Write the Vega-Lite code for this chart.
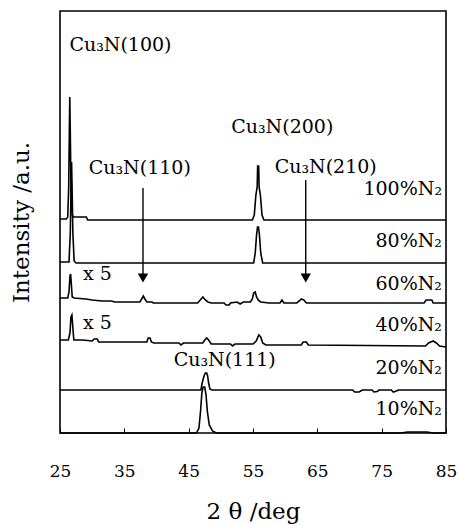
{
  "$schema": "https://vega.github.io/schema/vega-lite/v6.json",
  "autosize": {"type": "none"},
  "padding": {"left": 60, "top": 11, "right": 14, "bottom": 92},
  "width": 386,
  "height": 422,
  "background": "white",
  "config": {
    "view": {"stroke": "black", "strokeWidth": 1.6},
    "font": "DejaVu Serif"
  },
  "datasets": {
    "spectra": [
      {"series": "100%", "theta": 25.0, "intensity": 214},
      {"series": "100%", "theta": 26.0, "intensity": 214},
      {"series": "100%", "theta": 26.2, "intensity": 216},
      {"series": "100%", "theta": 26.35, "intensity": 245},
      {"series": "100%", "theta": 26.45, "intensity": 300},
      {"series": "100%", "theta": 26.52, "intensity": 336},
      {"series": "100%", "theta": 26.6, "intensity": 300},
      {"series": "100%", "theta": 26.72, "intensity": 240},
      {"series": "100%", "theta": 26.9, "intensity": 218},
      {"series": "100%", "theta": 27.1, "intensity": 216},
      {"series": "100%", "theta": 29.1, "intensity": 216},
      {"series": "100%", "theta": 29.3, "intensity": 213},
      {"series": "100%", "theta": 54.9, "intensity": 213},
      {"series": "100%", "theta": 55.2, "intensity": 218},
      {"series": "100%", "theta": 55.45, "intensity": 238},
      {"series": "100%", "theta": 55.65, "intensity": 246},
      {"series": "100%", "theta": 55.72, "intensity": 267},
      {"series": "100%", "theta": 55.88, "intensity": 267},
      {"series": "100%", "theta": 55.95, "intensity": 246},
      {"series": "100%", "theta": 56.15, "intensity": 238},
      {"series": "100%", "theta": 56.4, "intensity": 218},
      {"series": "100%", "theta": 56.7, "intensity": 213},
      {"series": "100%", "theta": 85.0, "intensity": 213},

      {"series": "80%", "theta": 25.0, "intensity": 171},
      {"series": "80%", "theta": 26.4, "intensity": 171},
      {"series": "80%", "theta": 26.6, "intensity": 200},
      {"series": "80%", "theta": 26.72, "intensity": 245},
      {"series": "80%", "theta": 26.8, "intensity": 271},
      {"series": "80%", "theta": 26.88, "intensity": 245},
      {"series": "80%", "theta": 27.0, "intensity": 200},
      {"series": "80%", "theta": 27.2, "intensity": 172},
      {"series": "80%", "theta": 27.5, "intensity": 170},
      {"series": "80%", "theta": 55.1, "intensity": 170},
      {"series": "80%", "theta": 55.35, "intensity": 180},
      {"series": "80%", "theta": 55.55, "intensity": 198},
      {"series": "80%", "theta": 55.7, "intensity": 206},
      {"series": "80%", "theta": 55.85, "intensity": 206},
      {"series": "80%", "theta": 56.0, "intensity": 198},
      {"series": "80%", "theta": 56.2, "intensity": 180},
      {"series": "80%", "theta": 56.5, "intensity": 170},
      {"series": "80%", "theta": 85.0, "intensity": 170},

      {"series": "60%", "theta": 25.0, "intensity": 135},
      {"series": "60%", "theta": 26.2, "intensity": 135},
      {"series": "60%", "theta": 26.4, "intensity": 141},
      {"series": "60%", "theta": 26.55, "intensity": 157},
      {"series": "60%", "theta": 26.65, "intensity": 159},
      {"series": "60%", "theta": 26.75, "intensity": 150},
      {"series": "60%", "theta": 26.9, "intensity": 136},
      {"series": "60%", "theta": 27.2, "intensity": 135},
      {"series": "60%", "theta": 29.0, "intensity": 134},
      {"series": "60%", "theta": 30.0, "intensity": 133},
      {"series": "60%", "theta": 31.5, "intensity": 132},
      {"series": "60%", "theta": 33.0, "intensity": 132},
      {"series": "60%", "theta": 33.5, "intensity": 131},
      {"series": "60%", "theta": 37.4, "intensity": 131},
      {"series": "60%", "theta": 37.7, "intensity": 134},
      {"series": "60%", "theta": 37.95, "intensity": 137},
      {"series": "60%", "theta": 38.2, "intensity": 134},
      {"series": "60%", "theta": 38.5, "intensity": 131},
      {"series": "60%", "theta": 39.3, "intensity": 131},
      {"series": "60%", "theta": 39.5, "intensity": 130},
      {"series": "60%", "theta": 46.4, "intensity": 130},
      {"series": "60%", "theta": 46.8, "intensity": 133},
      {"series": "60%", "theta": 47.2, "intensity": 136},
      {"series": "60%", "theta": 47.6, "intensity": 133},
      {"series": "60%", "theta": 48.0, "intensity": 131},
      {"series": "60%", "theta": 48.5, "intensity": 130},
      {"series": "60%", "theta": 50.5, "intensity": 130},
      {"series": "60%", "theta": 50.8, "intensity": 128},
      {"series": "60%", "theta": 51.3, "intensity": 128},
      {"series": "60%", "theta": 51.5, "intensity": 130},
      {"series": "60%", "theta": 52.5, "intensity": 131},
      {"series": "60%", "theta": 53.0, "intensity": 129},
      {"series": "60%", "theta": 53.5, "intensity": 131},
      {"series": "60%", "theta": 54.6, "intensity": 131},
      {"series": "60%", "theta": 54.9, "intensity": 134},
      {"series": "60%", "theta": 55.1, "intensity": 140},
      {"series": "60%", "theta": 55.35, "intensity": 141},
      {"series": "60%", "theta": 55.55, "intensity": 136},
      {"series": "60%", "theta": 55.8, "intensity": 133},
      {"series": "60%", "theta": 56.2, "intensity": 131},
      {"series": "60%", "theta": 57.5, "intensity": 130},
      {"series": "60%", "theta": 59.2, "intensity": 130},
      {"series": "60%", "theta": 59.5, "intensity": 133},
      {"series": "60%", "theta": 59.8, "intensity": 130},
      {"series": "60%", "theta": 61.8, "intensity": 130},
      {"series": "60%", "theta": 62.2, "intensity": 132},
      {"series": "60%", "theta": 62.5, "intensity": 134},
      {"series": "60%", "theta": 62.9, "intensity": 133},
      {"series": "60%", "theta": 63.3, "intensity": 130},
      {"series": "60%", "theta": 81.6, "intensity": 130},
      {"series": "60%", "theta": 81.9, "intensity": 133},
      {"series": "60%", "theta": 82.8, "intensity": 133},
      {"series": "60%", "theta": 83.0, "intensity": 130},
      {"series": "60%", "theta": 85.0, "intensity": 130},

      {"series": "40%", "theta": 25.0, "intensity": 93},
      {"series": "40%", "theta": 26.3, "intensity": 93},
      {"series": "40%", "theta": 26.55, "intensity": 100},
      {"series": "40%", "theta": 26.7, "intensity": 116},
      {"series": "40%", "theta": 26.85, "intensity": 118},
      {"series": "40%", "theta": 27.0, "intensity": 105},
      {"series": "40%", "theta": 27.15, "intensity": 93},
      {"series": "40%", "theta": 28.5, "intensity": 93},
      {"series": "40%", "theta": 30.0, "intensity": 92},
      {"series": "40%", "theta": 30.3, "intensity": 94},
      {"series": "40%", "theta": 30.8, "intensity": 94},
      {"series": "40%", "theta": 31.0, "intensity": 91},
      {"series": "40%", "theta": 33.0, "intensity": 91},
      {"series": "40%", "theta": 38.5, "intensity": 91},
      {"series": "40%", "theta": 38.7, "intensity": 95},
      {"series": "40%", "theta": 39.0, "intensity": 95},
      {"series": "40%", "theta": 39.2, "intensity": 91},
      {"series": "40%", "theta": 39.6, "intensity": 90},
      {"series": "40%", "theta": 43.5, "intensity": 90},
      {"series": "40%", "theta": 43.8, "intensity": 88},
      {"series": "40%", "theta": 44.2, "intensity": 90},
      {"series": "40%", "theta": 47.2, "intensity": 90},
      {"series": "40%", "theta": 47.5, "intensity": 93},
      {"series": "40%", "theta": 47.8, "intensity": 95},
      {"series": "40%", "theta": 48.1, "intensity": 93},
      {"series": "40%", "theta": 48.5, "intensity": 89},
      {"series": "40%", "theta": 51.5, "intensity": 89},
      {"series": "40%", "theta": 51.8, "intensity": 87},
      {"series": "40%", "theta": 52.2, "intensity": 89},
      {"series": "40%", "theta": 55.0, "intensity": 89},
      {"series": "40%", "theta": 55.5, "intensity": 92},
      {"series": "40%", "theta": 55.9, "intensity": 98},
      {"series": "40%", "theta": 56.2, "intensity": 96},
      {"series": "40%", "theta": 56.5, "intensity": 90},
      {"series": "40%", "theta": 57.0, "intensity": 88},
      {"series": "40%", "theta": 62.5, "intensity": 88},
      {"series": "40%", "theta": 62.8, "intensity": 91},
      {"series": "40%", "theta": 63.3, "intensity": 91},
      {"series": "40%", "theta": 63.6, "intensity": 88},
      {"series": "40%", "theta": 81.8, "intensity": 87},
      {"series": "40%", "theta": 82.3, "intensity": 90},
      {"series": "40%", "theta": 83.0, "intensity": 92},
      {"series": "40%", "theta": 83.5, "intensity": 90},
      {"series": "40%", "theta": 84.0, "intensity": 87},
      {"series": "40%", "theta": 85.0, "intensity": 86},

      {"series": "20%", "theta": 25.0, "intensity": 43},
      {"series": "20%", "theta": 46.9, "intensity": 43},
      {"series": "20%", "theta": 47.1, "intensity": 50},
      {"series": "20%", "theta": 47.3, "intensity": 55},
      {"series": "20%", "theta": 47.45, "intensity": 58},
      {"series": "20%", "theta": 47.6, "intensity": 60},
      {"series": "20%", "theta": 47.8, "intensity": 60},
      {"series": "20%", "theta": 47.95, "intensity": 57},
      {"series": "20%", "theta": 48.1, "intensity": 50},
      {"series": "20%", "theta": 48.3, "intensity": 44},
      {"series": "20%", "theta": 48.6, "intensity": 43},
      {"series": "20%", "theta": 70.5, "intensity": 43},
      {"series": "20%", "theta": 70.8, "intensity": 41},
      {"series": "20%", "theta": 71.5, "intensity": 41},
      {"series": "20%", "theta": 72.0, "intensity": 43},
      {"series": "20%", "theta": 73.5, "intensity": 43},
      {"series": "20%", "theta": 73.8, "intensity": 41},
      {"series": "20%", "theta": 74.3, "intensity": 41.5},
      {"series": "20%", "theta": 74.6, "intensity": 43},
      {"series": "20%", "theta": 76.5, "intensity": 43},
      {"series": "20%", "theta": 76.8, "intensity": 41},
      {"series": "20%", "theta": 77.3, "intensity": 42},
      {"series": "20%", "theta": 77.6, "intensity": 43},
      {"series": "20%", "theta": 85.0, "intensity": 43},

      {"series": "10%", "theta": 25.0, "intensity": 0},
      {"series": "10%", "theta": 46.2, "intensity": 0},
      {"series": "10%", "theta": 46.6, "intensity": 5},
      {"series": "10%", "theta": 46.85, "intensity": 22},
      {"series": "10%", "theta": 47.05, "intensity": 40},
      {"series": "10%", "theta": 47.25, "intensity": 46},
      {"series": "10%", "theta": 47.5, "intensity": 46},
      {"series": "10%", "theta": 47.7, "intensity": 38},
      {"series": "10%", "theta": 47.9, "intensity": 22},
      {"series": "10%", "theta": 48.2, "intensity": 8},
      {"series": "10%", "theta": 48.7, "intensity": 2},
      {"series": "10%", "theta": 49.3, "intensity": 0},
      {"series": "10%", "theta": 78.0, "intensity": 0},
      {"series": "10%", "theta": 79.0, "intensity": 1},
      {"series": "10%", "theta": 82.0, "intensity": 1},
      {"series": "10%", "theta": 83.0, "intensity": 0},
      {"series": "10%", "theta": 85.0, "intensity": 0}
    ],
    "seriesLabels": [
      {"label": "100%N₂", "theta": 85, "intensity": 244},
      {"label": "80%N₂", "theta": 85, "intensity": 192},
      {"label": "60%N₂", "theta": 85, "intensity": 149},
      {"label": "40%N₂", "theta": 85, "intensity": 108},
      {"label": "20%N₂", "theta": 85, "intensity": 65},
      {"label": "10%N₂", "theta": 85, "intensity": 24}
    ],
    "peakLabels": [
      {"label": "Cu₃N(100)", "theta": 34.4, "intensity": 388},
      {"label": "Cu₃N(200)", "theta": 59.55, "intensity": 306},
      {"label": "Cu₃N(110)", "theta": 37.4, "intensity": 265},
      {"label": "Cu₃N(210)", "theta": 66.3, "intensity": 266},
      {"label": "Cu₃N(111)", "theta": 50.6, "intensity": 73},
      {"label": "x 5", "theta": 30.8, "intensity": 159},
      {"label": "x 5", "theta": 30.8, "intensity": 110}
    ],
    "arrows": [
      {"theta": 37.9, "top": 245, "bottom": 158, "tip": 155},
      {"theta": 63.2, "top": 253, "bottom": 158, "tip": 155}
    ]
  },
  "layer": [
    {
      "data": {"name": "spectra"},
      "mark": {"type": "line", "color": "black", "strokeWidth": 1.6, "interpolate": "linear"},
      "encoding": {
        "x": {
          "field": "theta", "type": "quantitative",
          "scale": {"domain": [25, 85], "nice": false, "zero": false},
          "axis": {
            "title": "2 θ  /deg",
            "values": [25, 35, 45, 55, 65, 75, 85],
            "grid": false, "domain": false,
            "tickSize": -5, "tickColor": "black", "tickWidth": 1,
            "labelFont": "DejaVu Serif", "labelFontSize": 17, "labelColor": "black",
            "labelPadding": 35, "labelFlush": false,
            "titleFont": "DejaVu Serif", "titleFontSize": 23, "titleFontWeight": "normal",
            "titleColor": "black", "titlePadding": 21
          }
        },
        "y": {
          "field": "intensity", "type": "quantitative",
          "scale": {"domain": [0, 422], "nice": false, "zero": false},
          "axis": {
            "title": "Intensity /a.u.",
            "grid": false, "domain": false, "ticks": false, "labels": false,
            "titleFont": "DejaVu Serif", "titleFontSize": 23, "titleFontWeight": "normal",
            "titleColor": "black", "titlePadding": 27
          }
        },
        "detail": {"field": "series", "type": "nominal"}
      }
    },
    {
      "data": {"name": "seriesLabels"},
      "mark": {"type": "text", "align": "right", "baseline": "middle", "dx": -4, "font": "DejaVu Serif", "fontSize": 19, "color": "black"},
      "encoding": {
        "x": {"field": "theta", "type": "quantitative"},
        "y": {"field": "intensity", "type": "quantitative"},
        "text": {"field": "label", "type": "nominal"}
      }
    },
    {
      "data": {"name": "peakLabels"},
      "mark": {"type": "text", "align": "center", "baseline": "middle", "font": "DejaVu Serif", "fontSize": 19, "color": "black"},
      "encoding": {
        "x": {"field": "theta", "type": "quantitative"},
        "y": {"field": "intensity", "type": "quantitative"},
        "text": {"field": "label", "type": "nominal"}
      }
    },
    {
      "data": {"name": "arrows"},
      "mark": {"type": "rule", "color": "black", "strokeWidth": 1.4},
      "encoding": {
        "x": {"field": "theta", "type": "quantitative"},
        "y": {"field": "top", "type": "quantitative"},
        "y2": {"field": "bottom"}
      }
    },
    {
      "data": {"name": "arrows"},
      "mark": {"type": "point", "shape": "triangle-down", "filled": true, "color": "black", "size": 110, "opacity": 1},
      "encoding": {
        "x": {"field": "theta", "type": "quantitative"},
        "y": {"field": "tip", "type": "quantitative"}
      }
    }
  ]
}
